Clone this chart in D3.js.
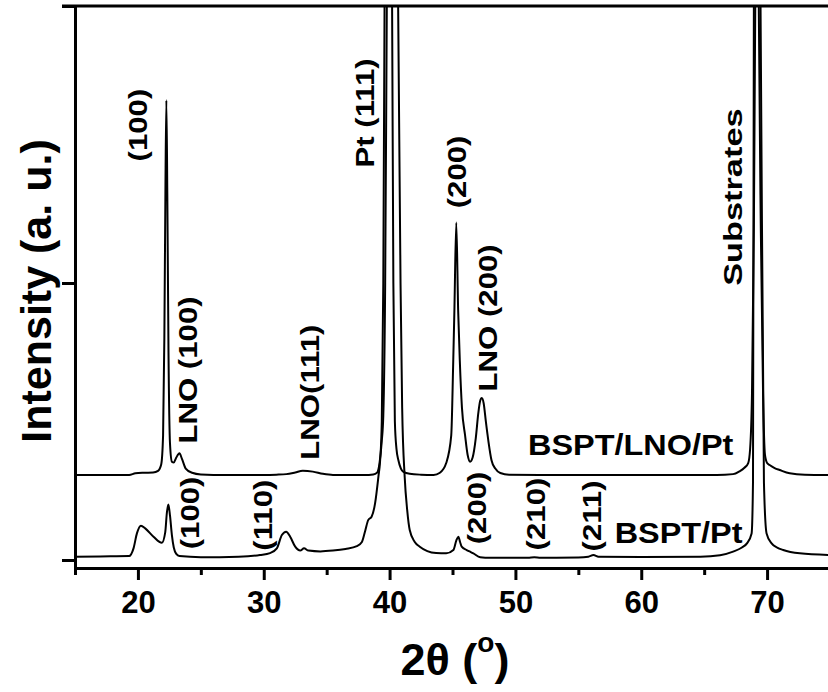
<!DOCTYPE html>
<html><head><meta charset="utf-8">
<script src="https://cdn.jsdelivr.net/npm/d3@7"></script>
<style>
body{margin:0;background:#fff}
svg{display:block}
text{font-family:"Liberation Sans",Arial,Helvetica,sans-serif;font-weight:bold;fill:#000}
</style></head>
<body><svg id="chart" width="828" height="692"></svg>
<script>
// ---- data (2θ in degrees, intensity in arbitrary units) ----
const xMajorTicks = [20, 30, 40, 50, 60, 70];
const xMinorTicks = [15, 25, 35, 45, 55, 65, 75];
const yTicks = [0, 1, 2];

const bsptLnoPt = [
 [15,0.307],[17,0.307],[19.3,0.307],[19.8,0.313],[20.5,0.315],[21.2,0.316],[21.6,0.322],[21.85,0.345],
 [22.0,0.45],[22.1,0.8],[22.18,1.3],[22.26,1.66],[22.34,1.3],[22.43,0.75],[22.55,0.42],[22.7,0.355],
 [22.85,0.352],[23.05,0.37],[23.3,0.385],[23.5,0.365],[23.8,0.33],[24.3,0.315],[25,0.309],[27,0.307],
 [30,0.307],[31,0.308],[31.8,0.31],[32.5,0.316],[33.1,0.322],[33.9,0.319],[34.7,0.311],[35.5,0.307],
 [38,0.307],[38.7,0.309],[39.0,0.315],[39.2,0.35],[39.38,0.43],[39.5,0.52],[39.65,1.0],[39.78,2.0],
 [39.9,2.8],[40.0,3.0],[40.1,2.8],[40.2,2.0],[40.3,1.0],[40.42,0.5],[40.55,0.4],[40.7,0.36],[40.9,0.33],
 [41.1,0.318],[41.6,0.311],[42.5,0.308],[43.5,0.307],[44.0,0.315],[44.5,0.35],[44.9,0.45],[45.05,0.7],
 [45.15,0.9],[45.3,1.218],[45.45,0.9],[45.58,0.72],[45.75,0.55],[46.0,0.45],[46.2,0.38],[46.4,0.355],
 [46.6,0.37],[46.85,0.44],[47.05,0.53],[47.2,0.575],[47.33,0.585],[47.48,0.565],[47.65,0.5],[47.85,0.43],
 [48.1,0.36],[48.4,0.33],[48.8,0.314],[49.5,0.308],[52,0.307],[60,0.307],[66,0.307],[67.3,0.31],
 [67.8,0.32],[68.2,0.333],[68.5,0.35],[68.65,0.4],[68.8,0.6],[68.95,1.2],[69.06,2.0],[69.15,2.8],
 [69.2,3.0],[69.25,2.8],[69.34,2.0],[69.5,1.2],[69.68,0.6],[69.83,0.38],[70.0,0.35],[70.2,0.343],
 [70.6,0.332],[71.0,0.325],[71.8,0.313],[73,0.308],[75,0.307]
];

const bsptPt = [
 [15,0.012],[17,0.013],[19.3,0.014],[19.65,0.042],[19.92,0.096],[20.24,0.124],[20.58,0.114],[21.24,0.084],
 [21.9,0.062],[22.17,0.1],[22.3,0.17],[22.42,0.2],[22.55,0.16],[22.7,0.09],[22.85,0.045],[23.05,0.022],
 [23.3,0.014],[25,0.01],[28,0.012],[29.7,0.018],[30.5,0.025],[31.04,0.042],[31.44,0.09],[31.78,0.102],
 [32.1,0.084],[32.5,0.048],[32.9,0.034],[33.2,0.042],[33.55,0.034],[34.5,0.031],[35.5,0.034],[36.5,0.04],
 [37.4,0.05],[37.8,0.065],[38.06,0.105],[38.3,0.144],[38.57,0.156],[38.85,0.205],[39.11,0.3],[39.25,0.36],
 [39.38,0.5],[39.5,1.0],[39.6,2.0],[39.8,2.9],[40.1,3.2],[40.4,2.9],[40.68,2.0],[40.87,1.0],[41.0,0.55],
 [41.2,0.3],[41.4,0.18],[41.6,0.108],[42.0,0.065],[42.4,0.048],[43.0,0.032],[43.7,0.025],[44.5,0.024],
 [45.07,0.036],[45.3,0.07],[45.47,0.084],[45.6,0.065],[45.73,0.048],[46.13,0.036],[46.4,0.03],[46.66,0.024],
 [47.2,0.01],[48,0.008],[51,0.008],[51.5,0.01],[52,0.008],[55,0.009],[55.8,0.012],[56.2,0.018],[56.6,0.012],
 [60,0.011],[64.7,0.012],[66.26,0.017],[67.3,0.03],[68.0,0.045],[68.4,0.06],[68.77,0.096],[68.88,0.28],
 [68.95,2.0],[69.2,3.0],[69.48,2.0],[69.75,0.28],[69.96,0.096],[70.36,0.06],[70.8,0.045],[71.28,0.036],
 [72.6,0.024],[75,0.018]
];

// peak annotations: [text, 2θ, intensity] (centre of the label)
const peakLabels = [
 ["(100)", 20.0, 1.570], ["LNO (100)", 23.97, 0.686], ["LNO(111)", 33.66, 0.606],
 ["Pt (111)", 38.03, 1.614], ["(200)", 45.34, 1.401], ["LNO (200)", 47.8, 0.874],
 ["Substrates", 67.26, 1.310], ["(100)", 24.13, 0.170], ["(110)", 29.93, 0.162],
 ["(200)", 46.93, 0.188], ["(210)", 51.61, 0.166], ["(211)", 56.06, 0.159]
];
const curveLabels = [["BSPT/LNO/Pt", 59.16, 0.419], ["BSPT/Pt", 62.97, 0.099]];

// ---- drawing ----
const svg = d3.select("#chart");
const x = d3.scaleLinear().domain([15, 75]).range([75, 830]);
const y = d3.scaleLinear().domain([-0.0289, 2]).range([568, 6]);

svg.append("clipPath").attr("id","clip").append("rect")
  .attr("x", x(15)).attr("y", y(2)).attr("width", 828 - x(15)).attr("height", y.range()[0] - y(2));

const line = d3.line().x(d => x(d[0])).y(d => y(d[1])).curve(d3.curveMonotoneX);
const plot = svg.append("g").attr("clip-path","url(#clip)");
[bsptLnoPt, bsptPt].forEach(s => {
  plot.append("path").datum(s).attr("d", line)
    .attr("fill","none").attr("stroke","#000").attr("stroke-width",2).attr("stroke-linejoin","round");
});

// axes
const bottom = svg.append("g").attr("transform",`translate(0,${y.range()[0]})`)
  .call(d3.axisBottom(x).tickValues(xMajorTicks).tickSize(12).tickSizeOuter(0).tickPadding(11));
const minor = svg.append("g").attr("transform",`translate(0,${y.range()[0]})`)
  .call(d3.axisBottom(x).tickValues(xMinorTicks).tickSize(7).tickSizeOuter(0).tickFormat(""));
minor.select(".domain").remove();
const left = svg.append("g").attr("transform",`translate(${x(15)},0)`)
  .call(d3.axisLeft(y).tickValues(yTicks).tickSize(13).tickSizeOuter(0).tickFormat(""));
svg.append("line").attr("x1", x(15)-13).attr("x2", 828).attr("y1", y(2)).attr("y2", y(2))
  .attr("stroke","#000").attr("stroke-width",3);
[bottom, minor, left].forEach(g => {
  g.selectAll("path, line").attr("stroke","#000").attr("stroke-width",3);
  g.selectAll("text").style("font-size","31px").style("font-family",'"Liberation Sans",Arial,sans-serif').style("font-weight","bold");
});

// axis titles
svg.append("text").attr("transform",`translate(51,291) rotate(-90)`)
  .attr("text-anchor","middle").style("font-size","43px").text("Intensity (a. u.)");
const xt = svg.append("text").attr("x", 455).attr("y", 675).attr("text-anchor","middle").style("font-size","45px");
xt.append("tspan").text("2θ (");
xt.append("tspan").attr("dy",-23).style("font-size","28px").text("o");
xt.append("tspan").attr("dy",23).text(")");

// annotations
svg.append("g").selectAll("text").data(peakLabels).join("text")
  .attr("transform", d => `translate(${x(d[1])},${y(d[2])}) rotate(-90) scale(${d[0].length > 9 ? 1.32 : 1.2},1)`)
  .attr("text-anchor","middle").attr("dy","0.36em").style("font-size","26px").text(d => d[0]);
svg.append("g").selectAll("text").data(curveLabels).join("text")
  .attr("transform", d => `translate(${x(d[1])},${y(d[2])}) scale(1.08,1)`)
  .attr("text-anchor","middle").attr("dy","0.36em").style("font-size","30px").text(d => d[0]);
</script></body></html>
